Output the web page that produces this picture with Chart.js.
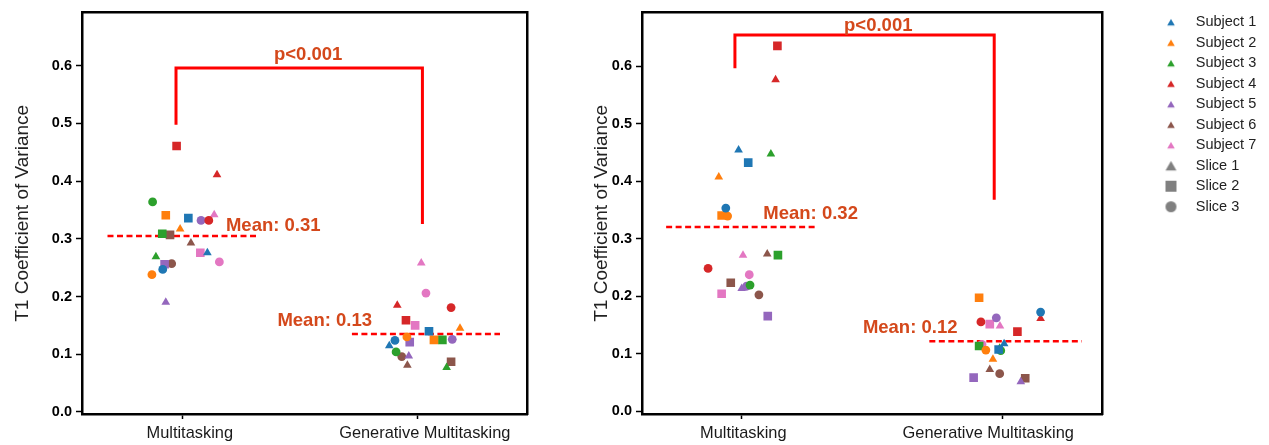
<!DOCTYPE html>
<html>
<head>
<meta charset="utf-8">
<script src="https://cdn.jsdelivr.net/npm/chart.js@4.4.1/dist/chart.umd.min.js"></script>
<style>
  body { margin: 0; background: #fff; }
  #wrap { position: relative; width: 1269px; height: 445px; }
  #left { position: absolute; left: 0; top: 0; width: 560px; height: 445px; }
  #right { position: absolute; left: 560px; top: 0; width: 709px; height: 445px; }
</style>
</head>
<body>
<div id="wrap">
  <canvas id="left" width="560" height="445"></canvas>
  <canvas id="right" width="709" height="445"></canvas>
</div>
<script>
// DATA

const categories = ['Multitasking', 'Generative Multitasking'];
const subjects = ['Subject 1', 'Subject 2', 'Subject 3', 'Subject 4', 'Subject 5', 'Subject 6', 'Subject 7'];
const slices = ['Slice 1', 'Slice 2', 'Slice 3'];
const yTicks = [0, 0.1, 0.2, 0.3, 0.4, 0.5, 0.6];

// one row per subject: [slice 1, slice 2, slice 3]
const leftMultiY = [
  [0.276, 0.336, 0.247],
  [0.317, 0.341, 0.238],
  [0.269, 0.309, 0.364],
  [0.411, 0.461, 0.332],
  [0.190, 0.256, 0.332],
  [0.293, 0.307, 0.257],
  [0.342, 0.276, 0.260]
];
const leftMultiX = [
  [0.105, 0.024, -0.085],
  [-0.011, -0.072, -0.131],
  [-0.114, -0.087, -0.128],
  [0.146, -0.026, 0.111],
  [-0.072, -0.077, 0.078],
  [0.035, -0.054, -0.047],
  [0.134, 0.075, 0.156]
];
const leftGenY = [
  [0.115, 0.140, 0.124],
  [0.145, 0.125, 0.130],
  [0.077, 0.125, 0.104],
  [0.185, 0.159, 0.181],
  [0.097, 0.121, 0.126],
  [0.081, 0.087, 0.096],
  [0.258, 0.150, 0.206]
];
const leftGenX = [
  [0.879, 1.048, 0.903],
  [1.180, 1.069, 0.954],
  [1.123, 1.105, 0.908],
  [0.913, 0.950, 1.142],
  [0.962, 0.966, 1.147],
  [0.956, 1.142, 0.932],
  [1.015, 0.989, 1.035]
];

const rightMultiY = [
  [0.454, 0.432, 0.353],
  [0.407, 0.340, 0.339],
  [0.447, 0.271, 0.219],
  [0.576, 0.635, 0.248],
  [0.213, 0.165, 0.217],
  [0.273, 0.223, 0.202],
  [0.271, 0.204, 0.237]
];
const rightMultiX = [
  [-0.012, 0.025, -0.061],
  [-0.088, -0.077, -0.054],
  [0.112, 0.139, 0.032],
  [0.130, 0.137, -0.129],
  [0.000, 0.100, 0.019],
  [0.098, -0.042, 0.066],
  [0.005, -0.077, 0.029]
];
const rightGenY = [
  [0.117, 0.107, 0.172],
  [0.090, 0.197, 0.106],
  [0.109, 0.113, 0.105],
  [0.161, 0.138, 0.155],
  [0.051, 0.058, 0.162],
  [0.072, 0.057, 0.065],
  [0.148, 0.151, 0.116]
];
const rightGenX = [
  [1.007, 0.986, 1.147],
  [0.964, 0.911, 0.937],
  [0.990, 0.911, 0.994],
  [1.147, 1.058, 0.918],
  [1.071, 0.890, 0.977],
  [0.952, 1.088, 0.990],
  [0.991, 0.952, 0.922]
];

// group means and significance
const leftMeans = [0.305, 0.135];
const rightMeans = [0.320, 0.1215];
const leftMeanLabels = ['Mean: 0.31', 'Mean: 0.13'];
const rightMeanLabels = ['Mean: 0.32', 'Mean: 0.12'];
const pLabel = 'p<0.001';
const leftBracket = [0.498, 0.596, 0.326];   // left leg end, top, right leg end
const rightBracket = [0.596, 0.654, 0.3675];

// STYLE

Chart.defaults.font.family = "'Liberation Sans', Arial, sans-serif";

const subjectColors = ['#1f77b4', '#ff7f0e', '#2ca02c', '#d62728', '#9467bd', '#8c564b', '#e377c2'];
const sliceShapes = ['triangle', 'rect', 'circle'];
const sliceRadius = [5, 6.1, 4.4];
const lineRed = '#ff0000';
const textRed = '#d4481b';

function markerImage(shape, color, size) {
  const c = document.createElement('canvas');
  c.width = c.height = Math.ceil(size) + 2;
  const g = c.getContext('2d');
  const m = c.width / 2, r = size / 2;
  g.fillStyle = color;
  g.beginPath();
  if (shape === 'triangle') {
    g.moveTo(m, m - r * 0.85);
    g.lineTo(m + r, m + r * 0.85);
    g.lineTo(m - r, m + r * 0.85);
  } else if (shape === 'rect') {
    g.rect(m - r, m - r, size, size);
  } else {
    g.arc(m, m, r, 0, Math.PI * 2);
  }
  g.fill();
  return c;
}

function legendItems() {
  const subj = subjects.map((s, i) => ({
    text: s, pointStyle: markerImage('triangle', subjectColors[i], 7.6),
    fillStyle: subjectColors[i], strokeStyle: subjectColors[i], lineWidth: 0,
    fontColor: '#222', hidden: false
  }));
  const sl = slices.map((s, i) => ({
    text: s, pointStyle: markerImage(sliceShapes[i], '#808080', 11),
    fillStyle: '#808080', strokeStyle: '#808080', lineWidth: 0,
    fontColor: '#222', hidden: false
  }));
  return subj.concat(sl);
}

// text labels drawn at data coordinates
const annotationText = {
  id: 'annotationText',
  afterDatasetsDraw(chart, args, opts) {
    const ctx = chart.ctx, x = chart.scales.x, y = chart.scales.y;
    ctx.save();
    ctx.font = "bold 18.5px 'Liberation Sans', Arial, sans-serif";
    ctx.fillStyle = textRed;
    ctx.textBaseline = 'middle';
    opts.items.forEach(t => {
      ctx.textAlign = t.align;
      ctx.fillText(t.text, x.getPixelForValue(t.at[0]), y.getPixelForValue(t.at[1]));
    });
    ctx.restore();
  }
};

// legend column width, keeps the gap to the plot
const legendWidth = {
  id: 'legendWidth',
  beforeInit(chart) {
    if (!chart.legend) return;
    const fitValue = chart.legend.fit;
    chart.legend.fit = function fit() {
      fitValue.bind(chart.legend)();
      this.width = 121.5;
    };
  }
};

function subjectDatasets(xs, ys) {
  return subjects.map((s, i) => ({
    label: s,
    data: ys[i].map((v, k) => ({x: xs[i][k], y: v})),
    backgroundColor: subjectColors[i],
    borderWidth: 0,
    pointStyle: sliceShapes,
    pointRadius: sliceRadius,
    pointHoverRadius: sliceRadius,
    xAxisID: 'x', yAxisID: 'y'
  }));
}

function lineDataset(points, dash, width) {
  return {
    label: '', data: points, showLine: true, pointRadius: 0,
    borderColor: lineRed, borderWidth: width, borderDash: dash,
    borderJoinStyle: 'miter', backgroundColor: lineRed,
    xAxisID: 'x', yAxisID: 'y'
  };
}

function panelScales(p) {
  const frame = {display: true, color: '#000', width: 2.5};
  return {
    x: {
      type: 'linear', position: 'bottom', min: p.xMin, max: p.xMax,
      afterBuildTicks: s => { s.ticks = [{value: 0}, {value: 1}]; },
      ticks: {display: false},
      grid: {drawOnChartArea: false, drawTicks: true, tickLength: 5, tickWidth: 1.5, color: '#000'},
      border: frame,
      afterFit: s => { s.height = 5; }
    },
    xNames: {
      type: 'linear', position: 'bottom', min: p.xMin, max: p.xMax,
      afterBuildTicks: s => { s.ticks = p.labelAt.map(v => ({value: v})); },
      ticks: {font: {size: 16.4}, color: '#1a1a1a', padding: 5, maxRotation: 0, autoSkip: false,
        callback: (v, i) => categories[i]},
      grid: {display: false, drawTicks: false},
      border: {display: false},
      afterFit: s => { s.height = 26; }
    },
    xTop: {
      type: 'linear', position: 'top', min: p.xMin, max: p.xMax,
      ticks: {display: false}, grid: {display: false, drawTicks: false}, border: frame,
      afterFit: s => { s.height = 3; }
    },
    y: {
      type: 'linear', position: 'left', min: p.yMin, max: p.yMax,
      afterBuildTicks: s => { s.ticks = yTicks.map(v => ({value: v})); },
      ticks: {font: {size: 14.5, weight: 'bold'}, color: '#000', padding: 4,
        callback: v => v.toFixed(1)},
      grid: {drawOnChartArea: false, drawTicks: true, tickLength: 6, tickWidth: 1.5, color: '#000'},
      border: frame,
      title: {display: true, text: 'T1 Coefficient of Variance', color: '#222',
        font: {size: 19}, padding: {top: p.titlePad, bottom: 0}},
      afterFit: s => { s.width = 82; }
    },
    yRight: {
      type: 'linear', position: 'right', min: p.yMin, max: p.yMax,
      ticks: {display: false}, grid: {display: false, drawTicks: false}, border: frame,
      afterFit: s => { s.width = p.rightGap; }
    }
  };
}

function panelConfig(p) {
  const datasets = subjectDatasets(p.multiX, p.multiY)
    .concat(subjectDatasets(p.genX, p.genY))
    .concat([
      lineDataset([{x: p.meanSpans[0][0], y: p.means[0]}, {x: p.meanSpans[0][1], y: p.means[0]}], [6, 3.5], 2.5),
      lineDataset([{x: p.meanSpans[1][0], y: p.means[1]}, {x: p.meanSpans[1][1], y: p.means[1]}], [6, 3.5], 2.5),
      lineDataset([
        {x: p.bracketX[0], y: p.bracket[0]}, {x: p.bracketX[0], y: p.bracket[1]},
        {x: p.bracketX[1], y: p.bracket[1]}, {x: p.bracketX[1], y: p.bracket[2]}
      ], [], 3)
    ]);
  return {
    type: 'scatter',
    data: {datasets: datasets},
    options: {
      responsive: false,
      animation: false,
      layout: {padding: p.padding},
      scales: panelScales(p),
      plugins: {
        tooltip: {enabled: false},
        legend: p.legend ? {
          display: true, position: 'right', align: 'start',
          labels: {usePointStyle: true, pointStyleWidth: 35, padding: 6,
            font: {size: 14.5}, color: '#222', generateLabels: legendItems}
        } : {display: false},
        annotationText: {items: [
          {text: p.meanLabels[0], at: p.meanLabelAt[0], align: 'left'},
          {text: p.meanLabels[1], at: p.meanLabelAt[1], align: 'left'},
          {text: pLabel, at: p.pAt, align: 'center'}
        ]}
      }
    },
    plugins: [annotationText, legendWidth]
  };
}

function start() {
  new Chart(document.getElementById('left').getContext('2d'), panelConfig({
    xMin: -0.4285, xMax: 1.465, yMin: -0.0035, yMax: 0.692,
    labelAt: [0.03, 1.03], titlePad: 11.5, rightGap: 0,
    padding: {top: 9, right: 33, bottom: 0, left: 0},
    multiX: leftMultiX, multiY: leftMultiY, genX: leftGenX, genY: leftGenY,
    means: leftMeans, meanSpans: [[-0.32, 0.32], [0.72, 1.35]],
    meanLabels: leftMeanLabels, meanLabelAt: [[0.184, 0.322], [0.403, 0.157]],
    bracket: leftBracket, bracketX: [-0.0285, 1.02], pAt: [0.534, 0.618],
    legend: false
  }));

  new Chart(document.getElementById('right').getContext('2d'), panelConfig({
    xMin: -0.3826, xMax: 1.3826, yMin: -0.0052, yMax: 0.6927,
    labelAt: [0.006, 0.946], titlePad: 30, rightGap: 45.5,
    padding: {top: 9, right: 0, bottom: 0, left: 0},
    multiX: rightMultiX, multiY: rightMultiY, genX: rightGenX, genY: rightGenY,
    means: rightMeans, meanSpans: [[-0.29, 0.29], [0.72, 1.305]],
    meanLabels: rightMeanLabels, meanLabelAt: [[0.083, 0.343], [0.465, 0.145]],
    bracket: rightBracket, bracketX: [-0.026, 0.969], pAt: [0.524, 0.670],
    legend: true
  }));
}

window.onload = start;
</script>
</body>
</html>
